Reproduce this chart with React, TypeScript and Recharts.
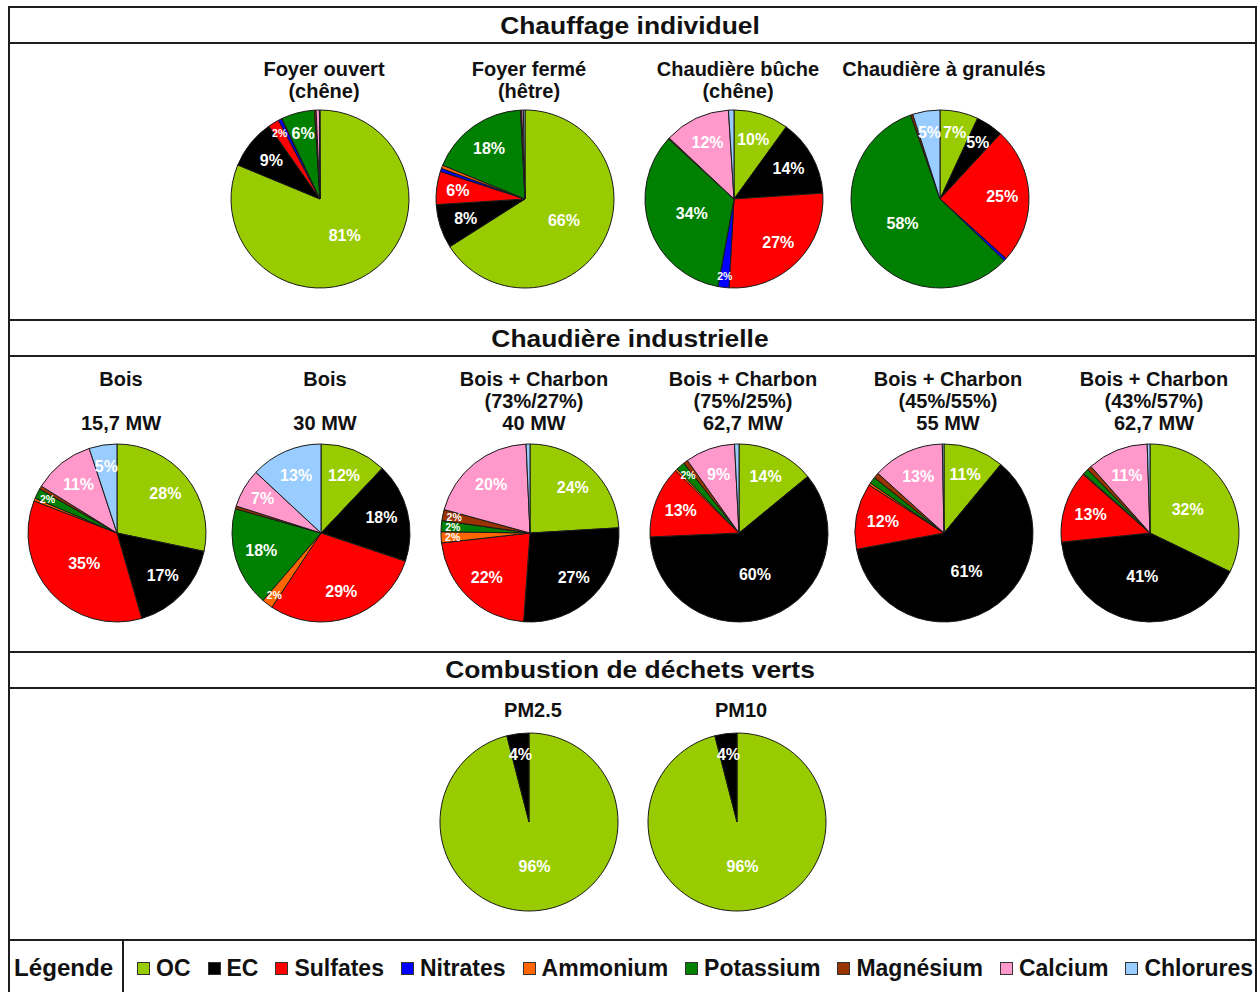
import React from 'react';
import { PieChart, Pie, Cell } from 'recharts';

// composantes, dans l'ordre des secteurs (sens horaire depuis midi)
const components = ['OC', 'EC', 'Sulfates', 'Nitrates', 'Ammonium', 'Potassium', 'Magnésium', 'Calcium', 'Chlorures'];
const colors = ['#99cc00', '#000000', '#ff0000', '#0000ff', '#ff6600', '#008000', '#993300', '#ff99cc', '#99ccff'];

// Chauffage individuel (%)
const foyerOuvert = [81, 9, 2, 0.6, 0.1, 6, 0.3, 0.6, 0.1];
const foyerFerme = [66, 8, 6, 0.6, 0.6, 18, 0.2, 0.3, 0.3];
const chaudiereBuche = [10, 14, 27, 2, 0, 34, 0.2, 12, 1];
const chaudiereGranules = [7, 5, 25, 0.5, 0, 58, 0.4, 0, 5];

// Chaudière industrielle (%)
const bois157 = [28, 17, 35, 0, 0.5, 1.8, 0.6, 11, 5];
const bois30 = [12, 18, 29, 0, 2, 18, 0.5, 7, 13];
const boisCharbon40 = [24, 27, 22, 0, 2, 2, 2, 20, 0.7];
const boisCharbon627a = [14, 60, 13, 0, 0.4, 1.6, 0.8, 9, 0.8];
const boisCharbon55 = [11, 61, 12, 0, 0.4, 1.2, 1, 13, 0.3];
const boisCharbon627b = [32, 41, 13, 0, 0.2, 1, 0.8, 11, 0.5];

// Combustion de déchets verts (%)
const pm25 = [96, 4, 0, 0, 0, 0, 0, 0, 0];
const pm10 = [96, 4, 0, 0, 0, 0, 0, 0, 0];

const charts = [
  { title: ['Foyer ouvert', '(chêne)'], values: foyerOuvert },
  { title: ['Foyer fermé', '(hêtre)'], values: foyerFerme },
  { title: ['Chaudière bûche', '(chêne)'], values: chaudiereBuche },
  { title: ['Chaudière à granulés'], values: chaudiereGranules },
  { title: ['Bois', '', '15,7 MW'], values: bois157 },
  { title: ['Bois', '', '30 MW'], values: bois30 },
  { title: ['Bois + Charbon', '(73%/27%)', '40 MW'], values: boisCharbon40 },
  { title: ['Bois + Charbon', '(75%/25%)', '62,7 MW'], values: boisCharbon627a },
  { title: ['Bois + Charbon', '(45%/55%)', '55 MW'], values: boisCharbon55 },
  { title: ['Bois + Charbon', '(43%/57%)', '62,7 MW'], values: boisCharbon627b },
  { title: ['PM2.5'], values: pm25 },
  { title: ['PM10'], values: pm10 },
];

const sectionTitles = ['Chauffage individuel', 'Chaudière industrielle', 'Combustion de déchets verts'];

// mise en page (px)
const W = 1260;
const H = 992;
const R = 89;
const pieCenters = [
  [320, 199], [525, 199], [734, 199], [940, 199],
  [117, 533], [321, 533], [530, 533], [739, 533], [944, 533], [1150, 533],
  [529, 822], [737, 822],
];
const titleTops = [69, 69, 69, 69, 379, 379, 379, 379, 379, 379, 710, 710];
const sectionY = [26, 339, 670];
const hLines = [7, 43, 320, 356, 652, 688, 940];

const FONT = '"Liberation Sans", Arial, Helvetica, sans-serif';
const RADIAN = Math.PI / 180;

const renderLabel = (props: any) => {
  const { cx, cy, midAngle, outerRadius, value } = props;
  if (value < 1.5) return null;
  let f = 0.7;
  if (value >= 30) f = 0.5;
  else if (value < 8) f = 0.76;
  if (value <= 2.2) f = 0.87;
  const r = outerRadius * f;
  const x = cx + r * Math.cos(-midAngle * RADIAN);
  const y = cy + r * Math.sin(-midAngle * RADIAN);
  const small = value <= 2.2;
  return (
    <text
      x={x}
      y={y}
      fill="#ffffff"
      textAnchor="middle"
      dominantBaseline="central"
      fontFamily={FONT}
      fontWeight="bold"
      fontSize={small ? 10.5 : 16}
    >
      {`${Math.round(value)}%`}
    </text>
  );
};

export default function App() {
  const lineColor = '#1e1e1e';
  return (
    <div style={{ position: 'absolute', left: 0, top: 0, width: W, height: H, background: '#fff', fontFamily: FONT, overflow: 'hidden' }}>
      {/* cadre */}
      {hLines.map((y) => (
        <div key={y} style={{ position: 'absolute', left: 9, width: 1248, top: y - 1, height: 2, background: lineColor }} />
      ))}
      <div style={{ position: 'absolute', left: 8, top: 6, width: 2, height: H, background: lineColor }} />
      <div style={{ position: 'absolute', left: 1255, top: 6, width: 2, height: H, background: lineColor }} />
      <div style={{ position: 'absolute', left: 122, top: 940, width: 2, height: 60, background: lineColor }} />

      {sectionTitles.map((t, i) => (
        <div key={t} style={{ position: 'absolute', left: 0, width: W, top: sectionY[i] - 14, height: 28, lineHeight: '28px', textAlign: 'center', fontSize: 24, fontWeight: 'bold', color: '#111', transform: 'scaleX(1.1)' }}>
          {t}
        </div>
      ))}

      {charts.map((c, i) => (
        <div key={i} style={{ position: 'absolute', left: pieCenters[i][0] + 4 - 120, width: 240, top: titleTops[i] - 11, textAlign: 'center', fontSize: 20, fontWeight: 'bold', lineHeight: '22px', color: '#111' }}>
          {c.title.map((l, j) => (
            <div key={j} style={{ height: 22 }}>{l}</div>
          ))}
        </div>
      ))}

      <div style={{ position: 'absolute', left: 0, top: 0 }}>
        <PieChart width={W} height={H} margin={{ top: 0, right: 0, bottom: 0, left: 0 }}>
          {charts.map((c, i) => {
            const data = c.values
              .map((v, k) => ({ name: components[k], value: v, color: colors[k] }))
              .filter((d) => d.value > 0);
            return (
              <Pie
                key={i}
                data={data}
                dataKey="value"
                nameKey="name"
                cx={pieCenters[i][0]}
                cy={pieCenters[i][1]}
                outerRadius={R}
                startAngle={90}
                endAngle={-270}
                stroke="#1a1a1a"
                strokeWidth={1}
                label={renderLabel}
                labelLine={false}
                isAnimationActive={false}
              >
                {data.map((d) => (
                  <Cell key={d.name} fill={d.color} />
                ))}
              </Pie>
            );
          })}
        </PieChart>
      </div>

      {/* légende */}
      <div style={{ position: 'absolute', left: 14, top: 954, fontSize: 23, fontWeight: 'bold', color: '#111', lineHeight: '28px', transform: 'scaleX(1.05)', transformOrigin: 'left center' }}>Légende</div>
      <div style={{ position: 'absolute', left: 137, top: 954, height: 28, display: 'flex', alignItems: 'center', gap: 17, fontSize: 23, fontWeight: 'bold', color: '#111' }}>
        {components.map((n, k) => (
          <div key={n} style={{ display: 'flex', alignItems: 'center', gap: 6 }}>
            <span style={{ display: 'inline-block', width: 11, height: 11, background: colors[k], border: '1.5px solid #333' }} />
            <span>{n}</span>
          </div>
        ))}
      </div>
    </div>
  );
}
